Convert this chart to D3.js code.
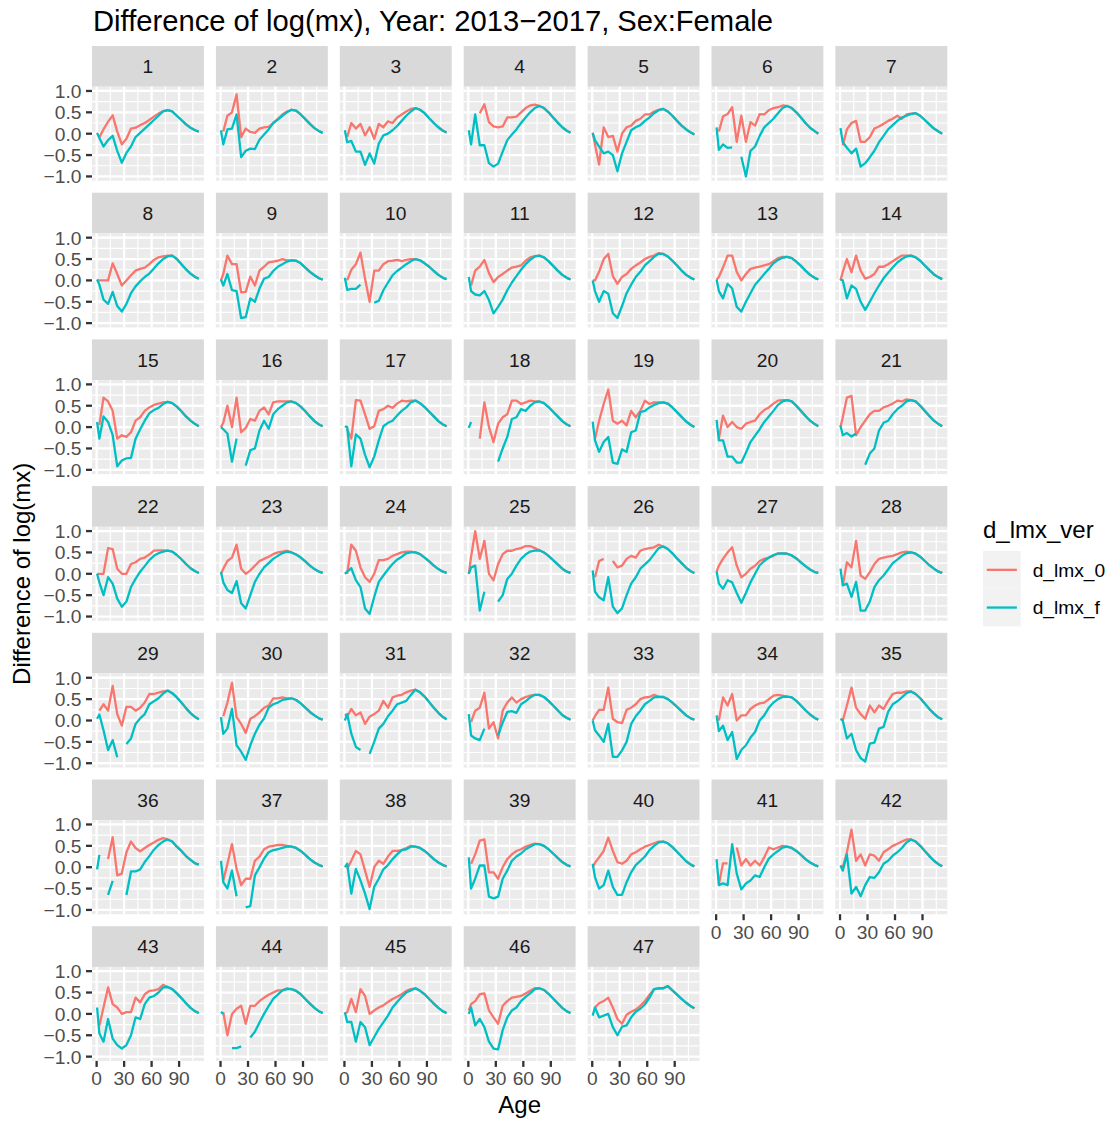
<!DOCTYPE html>
<html>
<head>
<meta charset="utf-8">
<script src="https://cdn.jsdelivr.net/npm/d3@7"></script>
<style>
  body { margin: 0; background: #ffffff; }
  svg text { font-family: "Liberation Sans", Arial, Helvetica, sans-serif; }
</style>
</head>
<body>
<svg id="chart" width="1120" height="1124"></svg>
<script>
// ---- data -------------------------------------------------------------
const NA = null;

// age-group positions (0, 1-4, 5-9, ..., 105-109, 110+)
const ages = [0.5, 3, 7.5, 12.5, 17.5, 22.5, 27.5, 32.5, 37.5, 42.5, 47.5, 52.5,
              57.5, 62.5, 67.5, 72.5, 77.5, 82.5, 87.5, 92.5, 97.5, 102.5, 107.5, 111.5];

const panelLabels = ["1","2","3","4","5","6","7","8","9","10","11","12","13","14","15","16",
  "17","18","19","20","21","22","23","24","25","26","27","28","29","30","31","32","33","34",
  "35","36","37","38","39","40","41","42","43","44","45","46","47"];

const seriesNames = ["d_lmx_0", "d_lmx_f"];
const seriesColors = ["#F8766D", "#00BFC4"];

const xTicks = [0, 30, 60, 90];
const xTickLabels = ["0", "30", "60", "90"];
const yTicks = [-1, -0.5, 0, 0.5, 1];
const yTickLabels = ["\u22121.0", "\u22120.5", "0.0", "0.5", "1.0"];

// difference of log(mx), version 0, one row per panel
const d_lmx_0 = [
  [NA,-0.08,0.1,0.28,0.43,0.05,-0.25,-0.12,0.12,0.14,0.2,0.25,0.32,0.4,0.47,0.53,0.55,0.52,0.42,0.32,0.22,0.14,0.08,0.05],
  [NA,0.05,0.42,0.5,0.92,-0.08,0.12,0.04,0.02,0.12,0.15,0.16,0.25,0.35,0.45,0.52,0.56,0.54,0.45,0.34,0.23,0.13,0.06,0.02],
  [NA,-0.08,0.25,0.12,0.23,-0.04,0.15,-0.12,0.23,0.15,0.29,0.25,0.38,0.45,0.52,0.58,0.6,0.56,0.48,0.36,0.25,0.15,0.07,0.03],
  [NA,NA,NA,0.48,0.69,0.27,0.17,0.15,0.17,0.38,0.38,0.4,0.5,0.6,0.66,0.68,0.65,0.6,0.5,0.38,0.26,0.15,0.07,0.02],
  [0.02,-0.25,-0.72,0.15,-0.08,-0.05,-0.42,0.0,0.15,0.19,0.3,0.35,0.45,0.45,0.52,0.56,0.58,0.52,0.42,0.3,0.19,0.1,0.03,-0.02],
  [NA,0.05,0.4,0.46,0.62,-0.19,0.42,-0.19,0.27,0.19,0.46,0.45,0.55,0.6,0.62,0.66,0.65,0.6,0.5,0.38,0.25,0.14,0.06,0.0],
  [NA,-0.27,0.1,0.25,0.3,-0.19,-0.19,-0.08,0.12,0.17,0.23,0.3,0.35,0.42,0.35,0.45,0.47,0.48,0.42,0.32,0.22,0.12,0.05,0.0],
  [0.0,0.0,0.0,0.0,0.4,0.15,-0.12,0.0,0.12,0.23,0.27,0.3,0.38,0.48,0.54,0.56,0.58,0.58,0.5,0.38,0.26,0.16,0.08,0.04],
  [0.0,0.15,0.58,0.38,0.38,-0.28,-0.27,0.09,-0.12,0.23,0.32,0.42,0.44,0.46,0.5,0.47,0.47,0.46,0.4,0.3,0.2,0.12,0.05,0.02],
  [NA,0.0,0.25,0.38,0.65,0.04,-0.5,0.23,0.23,0.38,0.45,0.46,0.48,0.45,0.48,0.5,0.5,0.47,0.4,0.32,0.22,0.13,0.06,0.03],
  [NA,-0.12,0.23,0.32,0.48,0.17,-0.04,0.08,0.15,0.23,0.3,0.32,0.35,0.46,0.54,0.57,0.58,0.54,0.45,0.34,0.23,0.13,0.06,0.02],
  [0.0,0.0,0.2,0.5,0.62,0.1,-0.08,0.08,0.15,0.27,0.35,0.42,0.5,0.55,0.58,0.64,0.62,0.56,0.46,0.35,0.23,0.13,0.06,0.02],
  [0.02,0.08,0.3,0.58,0.58,0.2,0.0,0.15,0.27,0.3,0.32,0.35,0.38,0.45,0.52,0.55,0.55,0.52,0.44,0.34,0.23,0.13,0.06,0.02],
  [0.0,0.2,0.5,0.19,0.58,0.23,0.04,0.08,0.15,0.32,0.32,0.38,0.45,0.52,0.58,0.58,0.58,0.54,0.46,0.35,0.24,0.14,0.07,0.03],
  [NA,0.05,0.69,0.6,0.38,-0.27,-0.19,-0.23,-0.12,0.15,0.23,0.38,0.46,0.52,0.55,0.58,0.59,0.56,0.48,0.37,0.25,0.15,0.07,0.02],
  [0.0,0.1,0.5,0.0,0.69,-0.12,-0.02,0.19,0.15,0.38,0.46,0.3,0.58,0.6,0.6,0.6,0.6,0.56,0.48,0.37,0.25,0.14,0.06,0.02],
  [NA,-0.05,-0.27,0.63,0.62,0.3,-0.04,0.02,0.38,0.42,0.5,0.45,0.55,0.62,0.6,0.62,0.62,0.56,0.47,0.36,0.25,0.14,0.06,0.02],
  [NA,NA,NA,-0.27,0.58,0.0,-0.35,0.08,0.23,0.3,0.62,0.62,0.54,0.58,0.62,0.6,0.6,0.56,0.47,0.36,0.25,0.14,0.06,0.02],
  [NA,-0.27,0.15,0.54,0.88,0.15,0.08,0.15,0.04,0.38,0.23,0.38,0.62,0.54,0.58,0.58,0.58,0.55,0.46,0.35,0.24,0.13,0.05,0.0],
  [NA,-0.27,0.27,0.0,0.12,0.0,-0.04,0.08,0.12,0.15,0.3,0.4,0.46,0.55,0.62,0.63,0.63,0.6,0.5,0.38,0.26,0.15,0.07,0.02],
  [0.0,0.23,0.69,0.73,-0.19,0.0,0.15,0.3,0.38,0.38,0.46,0.5,0.55,0.62,0.6,0.65,0.63,0.6,0.5,0.38,0.26,0.15,0.07,0.02],
  [0.0,0.0,0.0,0.6,0.58,0.12,0.0,0.0,0.23,0.27,0.35,0.38,0.45,0.54,0.55,0.55,0.54,0.52,0.44,0.34,0.23,0.13,0.06,0.02],
  [0.0,0.12,0.3,0.38,0.68,0.12,0.0,0.08,0.19,0.3,0.35,0.4,0.46,0.5,0.52,0.54,0.5,0.45,0.38,0.29,0.19,0.11,0.05,0.02],
  [NA,0.0,0.68,0.54,0.15,-0.08,-0.19,0.0,0.32,0.32,0.35,0.42,0.46,0.5,0.52,0.52,0.5,0.46,0.38,0.29,0.19,0.11,0.05,0.02],
  [0.0,0.4,1.0,0.35,0.77,0.0,-0.15,0.23,0.46,0.54,0.54,0.58,0.6,0.65,0.65,0.6,0.55,0.5,0.42,0.32,0.22,0.12,0.05,0.02],
  [NA,-0.08,0.3,0.35,NA,0.3,0.15,0.19,0.35,0.42,0.38,0.54,0.58,0.6,0.62,0.68,0.64,0.58,0.48,0.36,0.25,0.14,0.06,0.02],
  [0.05,0.19,0.35,0.5,0.62,0.19,-0.08,0.0,0.12,0.19,0.3,0.35,0.38,0.42,0.48,0.48,0.47,0.43,0.36,0.27,0.18,0.1,0.04,0.02],
  [NA,-0.27,0.27,0.15,0.77,-0.04,-0.12,0.04,0.23,0.35,0.38,0.4,0.42,0.46,0.5,0.52,0.5,0.47,0.4,0.3,0.2,0.12,0.05,0.02],
  [NA,0.23,0.38,0.23,0.81,0.15,-0.12,0.32,0.32,0.23,0.3,0.42,0.62,0.62,0.65,0.68,0.7,0.64,0.54,0.42,0.29,0.17,0.08,0.03],
  [NA,0.1,0.42,0.88,0.08,-0.08,-0.29,0.04,0.1,0.19,0.3,0.35,0.52,0.52,0.54,0.52,0.52,0.48,0.4,0.3,0.2,0.12,0.05,0.02],
  [0.15,0.1,0.27,0.12,0.19,-0.08,0.09,0.15,0.23,0.46,0.3,0.54,0.58,0.6,0.66,0.7,0.72,0.66,0.56,0.43,0.3,0.18,0.08,0.03],
  [NA,-0.04,0.23,0.3,0.65,-0.19,-0.04,-0.42,0.23,0.42,0.54,0.42,0.5,0.55,0.58,0.6,0.6,0.55,0.46,0.35,0.24,0.13,0.06,0.02],
  [0.0,0.1,0.25,0.25,0.77,0.04,-0.04,-0.06,0.25,0.3,0.38,0.5,0.54,0.55,0.6,0.56,0.55,0.5,0.42,0.32,0.22,0.12,0.05,0.02],
  [NA,0.0,0.54,0.35,0.62,0.0,0.12,0.12,0.27,0.35,0.4,0.42,0.5,0.58,0.6,0.58,0.56,0.54,0.46,0.35,0.24,0.14,0.06,0.02],
  [NA,0.0,0.35,0.77,0.3,0.15,0.04,0.35,0.19,0.35,0.27,0.46,0.62,0.65,0.65,0.68,0.68,0.62,0.52,0.4,0.27,0.16,0.07,0.03],
  [NA,NA,NA,0.19,0.7,-0.19,-0.15,0.35,0.6,0.45,0.37,0.45,0.52,0.58,0.64,0.68,0.65,0.6,0.48,0.38,0.26,0.17,0.09,0.06],
  [NA,-0.31,0.08,0.54,-0.04,-0.42,-0.27,-0.27,0.15,0.25,0.42,0.48,0.5,0.52,0.52,0.5,0.48,0.45,0.38,0.29,0.19,0.11,0.05,0.02],
  [NA,-0.04,0.15,0.38,0.3,-0.08,-0.46,0.0,0.15,0.08,0.25,0.38,0.38,0.4,0.45,0.5,0.48,0.45,0.38,0.29,0.19,0.11,0.05,0.02],
  [NA,0.08,0.3,0.62,0.65,-0.12,-0.12,-0.27,0.0,0.19,0.3,0.38,0.42,0.48,0.52,0.55,0.54,0.5,0.42,0.32,0.22,0.12,0.05,0.02],
  [0.0,0.1,0.23,0.38,0.69,0.38,0.12,0.08,0.15,0.3,0.35,0.42,0.48,0.52,0.56,0.6,0.6,0.56,0.47,0.36,0.25,0.14,0.06,0.02],
  [NA,-0.4,0.09,0.09,NA,0.46,0.04,0.19,0.04,0.15,0.04,0.23,0.46,0.42,0.46,0.5,0.48,0.45,0.38,0.29,0.19,0.11,0.05,0.02],
  [0.04,0.0,0.35,0.88,0.15,0.3,0.04,0.3,0.27,0.15,0.35,0.42,0.5,0.55,0.6,0.65,0.65,0.6,0.5,0.38,0.26,0.15,0.07,0.02],
  [NA,-0.27,0.15,0.62,0.23,0.15,0.0,0.04,0.04,0.38,0.27,0.46,0.54,0.55,0.58,0.68,0.63,0.58,0.48,0.37,0.25,0.14,0.06,0.02],
  [NA,0.04,-0.5,0.0,0.12,0.19,-0.23,0.19,0.19,0.3,0.38,0.45,0.5,0.55,0.55,0.6,0.58,0.54,0.46,0.35,0.24,0.14,0.06,0.02],
  [0.0,0.04,0.35,0.04,0.58,0.42,0.0,0.08,0.15,0.2,0.28,0.35,0.4,0.46,0.54,0.58,0.6,0.54,0.46,0.35,0.24,0.14,0.06,0.02],
  [0.08,0.23,0.3,0.46,0.48,0.08,-0.08,-0.23,0.19,0.3,0.38,0.4,0.42,0.48,0.54,0.6,0.6,0.56,0.47,0.36,0.25,0.14,0.06,0.02],
  [NA,0.15,0.25,0.3,0.38,0.15,-0.12,-0.23,-0.02,0.05,0.1,0.19,0.3,0.45,0.58,0.6,0.6,0.65,0.55,0.45,0.35,0.26,0.18,0.13]
];

// difference of log(mx), final version, one row per panel
const d_lmx_f = [
  [0.02,-0.1,-0.3,-0.15,-0.05,-0.4,-0.68,-0.45,-0.3,-0.08,0.02,0.12,0.22,0.32,0.42,0.52,0.55,0.52,0.42,0.32,0.22,0.14,0.08,0.05],
  [0.08,-0.25,0.1,0.12,0.45,-0.55,-0.4,-0.35,-0.36,-0.14,-0.02,0.1,0.25,0.33,0.42,0.5,0.56,0.54,0.45,0.34,0.23,0.13,0.06,0.02],
  [0.08,-0.2,-0.17,-0.42,-0.42,-0.73,-0.46,-0.7,-0.23,-0.04,0.0,0.08,0.18,0.3,0.42,0.52,0.6,0.56,0.48,0.36,0.25,0.15,0.07,0.03],
  [0.08,-0.25,0.45,-0.27,-0.27,-0.69,-0.77,-0.7,-0.42,-0.15,-0.02,0.1,0.25,0.38,0.5,0.6,0.65,0.6,0.5,0.38,0.26,0.15,0.07,0.02],
  [0.02,-0.15,-0.3,-0.46,-0.42,-0.5,-0.88,-0.46,-0.19,0.08,0.15,0.2,0.3,0.38,0.48,0.55,0.58,0.52,0.42,0.3,0.19,0.1,0.03,-0.02],
  [0.15,-0.38,-0.25,-0.33,-0.32,NA,-0.54,-1.0,-0.4,-0.3,-0.05,0.15,0.25,0.35,0.48,0.6,0.65,0.6,0.5,0.38,0.25,0.14,0.06,0.0],
  [0.13,-0.2,-0.33,-0.46,-0.35,-0.77,-0.69,-0.55,-0.4,-0.2,-0.05,0.1,0.2,0.3,0.38,0.42,0.46,0.48,0.42,0.32,0.22,0.12,0.05,0.0],
  [0.02,-0.1,-0.45,-0.55,-0.27,-0.6,-0.73,-0.55,-0.3,-0.14,-0.02,0.08,0.16,0.28,0.4,0.5,0.56,0.58,0.5,0.38,0.26,0.16,0.08,0.04],
  [0.02,-0.12,0.15,-0.23,-0.25,-0.88,-0.86,-0.42,-0.5,-0.19,0.04,0.08,0.22,0.32,0.38,0.44,0.47,0.46,0.4,0.3,0.2,0.12,0.05,0.02],
  [0.06,-0.22,-0.2,-0.2,-0.1,NA,NA,-0.52,-0.48,-0.23,-0.05,0.12,0.22,0.3,0.38,0.45,0.5,0.47,0.4,0.32,0.22,0.13,0.06,0.03],
  [0.08,-0.25,-0.33,-0.35,-0.25,-0.46,-0.77,-0.62,-0.45,-0.23,-0.05,0.1,0.25,0.38,0.48,0.56,0.58,0.54,0.45,0.34,0.23,0.13,0.06,0.02],
  [0.0,-0.25,-0.5,-0.25,-0.31,-0.77,-0.88,-0.6,-0.3,-0.1,0.08,0.2,0.35,0.45,0.55,0.62,0.62,0.56,0.46,0.35,0.23,0.13,0.06,0.02],
  [0.02,-0.25,-0.42,-0.08,-0.19,-0.62,-0.73,-0.5,-0.3,-0.1,0.02,0.15,0.27,0.4,0.48,0.53,0.55,0.52,0.44,0.34,0.23,0.13,0.06,0.02],
  [0.02,0.0,-0.42,-0.12,-0.2,-0.5,-0.69,-0.5,-0.3,-0.12,0.05,0.18,0.3,0.42,0.5,0.56,0.58,0.54,0.46,0.35,0.24,0.14,0.07,0.03],
  [0.12,-0.27,0.25,0.12,-0.19,-0.92,-0.78,-0.73,-0.72,-0.27,-0.05,0.15,0.32,0.4,0.45,0.54,0.59,0.56,0.48,0.37,0.25,0.15,0.07,0.02],
  [0.0,-0.05,-0.15,-0.81,-0.27,NA,-0.9,-0.54,-0.5,-0.08,0.15,-0.04,0.3,0.42,0.5,0.58,0.6,0.56,0.48,0.37,0.25,0.14,0.06,0.02],
  [0.02,0.0,-0.92,-0.17,-0.27,-0.65,-0.94,-0.69,-0.31,0.02,0.1,0.15,0.27,0.38,0.46,0.58,0.62,0.56,0.47,0.36,0.25,0.14,0.06,0.02],
  [-0.02,0.12,NA,NA,NA,NA,NA,-0.81,-0.5,-0.23,0.19,0.23,0.42,0.38,0.5,0.58,0.6,0.56,0.47,0.36,0.25,0.14,0.06,0.02],
  [0.13,-0.31,-0.58,-0.35,-0.23,-0.83,-0.86,-0.52,-0.58,-0.12,-0.08,0.35,0.38,0.46,0.52,0.56,0.58,0.55,0.46,0.35,0.24,0.13,0.05,0.0],
  [0.17,-0.31,-0.31,-0.69,-0.69,-0.83,-0.83,-0.6,-0.35,-0.2,-0.05,0.12,0.25,0.38,0.52,0.6,0.63,0.6,0.5,0.38,0.26,0.15,0.07,0.02],
  [0.04,-0.19,-0.14,-0.22,-0.15,NA,-0.88,-0.62,-0.5,-0.08,0.1,0.15,0.3,0.42,0.5,0.6,0.63,0.6,0.5,0.38,0.26,0.15,0.07,0.02],
  [0.0,-0.2,-0.5,-0.08,-0.23,-0.58,-0.77,-0.65,-0.31,-0.12,0.05,0.18,0.32,0.42,0.48,0.52,0.54,0.52,0.44,0.34,0.23,0.13,0.06,0.02],
  [0.04,-0.2,-0.38,-0.45,-0.17,-0.69,-0.81,-0.5,-0.19,0.0,0.15,0.25,0.35,0.42,0.48,0.52,0.5,0.45,0.38,0.29,0.19,0.11,0.05,0.02],
  [0.0,0.05,0.13,-0.15,-0.31,-0.81,-0.94,-0.54,-0.19,-0.04,0.1,0.23,0.33,0.4,0.48,0.5,0.5,0.46,0.38,0.29,0.19,0.11,0.05,0.02],
  [0.0,0.15,0.19,-0.86,-0.42,NA,NA,-0.65,-0.5,-0.12,0.0,0.19,0.35,0.45,0.52,0.54,0.55,0.5,0.42,0.32,0.22,0.12,0.05,0.02],
  [0.08,-0.42,-0.55,-0.62,-0.08,-0.77,-0.92,-0.81,-0.5,-0.23,-0.08,0.12,0.22,0.32,0.46,0.6,0.64,0.58,0.48,0.36,0.25,0.14,0.06,0.02],
  [0.06,-0.23,-0.35,-0.15,-0.2,-0.45,-0.68,-0.45,-0.2,0.0,0.2,0.3,0.38,0.44,0.47,0.48,0.47,0.43,0.36,0.27,0.18,0.1,0.04,0.02],
  [0.12,-0.27,-0.23,-0.54,-0.19,-0.86,-0.86,-0.65,-0.31,-0.15,-0.04,0.1,0.25,0.33,0.42,0.48,0.5,0.47,0.4,0.3,0.2,0.12,0.05,0.02],
  [0.04,0.14,-0.23,-0.69,-0.46,-0.86,NA,-0.55,-0.42,-0.08,0.05,0.15,0.38,0.45,0.52,0.63,0.7,0.64,0.54,0.42,0.29,0.17,0.08,0.03],
  [0.08,-0.31,-0.19,0.27,-0.58,-0.73,-0.92,-0.58,-0.31,-0.1,0.05,0.3,0.38,0.42,0.48,0.5,0.52,0.48,0.4,0.3,0.2,0.12,0.05,0.02],
  [0.0,0.15,-0.31,-0.62,-0.69,NA,-0.78,-0.5,-0.19,-0.08,0.1,0.23,0.38,0.42,0.46,0.6,0.72,0.66,0.56,0.43,0.3,0.18,0.08,0.03],
  [0.15,-0.35,-0.42,-0.46,-0.19,NA,NA,-0.35,-0.05,0.2,0.22,0.18,0.38,0.45,0.54,0.6,0.6,0.55,0.46,0.35,0.24,0.13,0.06,0.02],
  [0.0,-0.23,-0.35,-0.5,-0.08,-0.85,-0.85,-0.7,-0.5,-0.08,0.1,0.23,0.38,0.46,0.54,0.55,0.55,0.5,0.42,0.32,0.22,0.12,0.05,0.02],
  [0.12,-0.25,-0.12,-0.46,-0.27,-0.9,-0.69,-0.58,-0.4,-0.27,0.0,0.12,0.3,0.42,0.5,0.55,0.56,0.54,0.46,0.35,0.24,0.14,0.06,0.02],
  [0.04,0.0,-0.42,-0.31,-0.69,-0.88,-0.96,-0.54,-0.52,-0.19,-0.15,0.2,0.38,0.45,0.54,0.64,0.68,0.62,0.52,0.4,0.27,0.16,0.07,0.03],
  [-0.05,0.29,NA,-0.65,-0.32,NA,NA,-0.65,-0.1,-0.1,-0.05,0.12,0.26,0.41,0.52,0.6,0.65,0.6,0.48,0.38,0.26,0.17,0.09,0.06],
  [0.15,-0.35,-0.5,-0.08,-0.68,NA,-0.94,-0.91,-0.19,0.0,0.2,0.35,0.4,0.42,0.45,0.48,0.48,0.45,0.38,0.29,0.19,0.11,0.05,0.02],
  [0.0,0.08,-0.62,-0.04,-0.31,-0.62,-0.98,-0.46,-0.27,-0.05,0.05,0.19,0.3,0.4,0.42,0.48,0.48,0.45,0.38,0.29,0.19,0.11,0.05,0.02],
  [0.23,-0.5,-0.27,0.04,0.04,-0.69,-0.73,-0.69,-0.27,-0.08,0.15,0.25,0.32,0.42,0.48,0.54,0.54,0.5,0.42,0.32,0.22,0.12,0.05,0.02],
  [0.08,-0.23,-0.5,-0.42,-0.08,-0.46,-0.65,-0.65,-0.35,-0.12,0.05,0.15,0.25,0.4,0.5,0.58,0.6,0.56,0.47,0.36,0.25,0.14,0.06,0.02],
  [0.19,-0.42,-0.38,-0.42,0.54,-0.15,-0.52,-0.38,-0.31,-0.19,-0.23,0.0,0.2,0.3,0.38,0.46,0.48,0.45,0.38,0.29,0.19,0.11,0.05,0.02],
  [0.04,-0.08,0.3,-0.62,-0.46,-0.68,-0.42,-0.23,-0.25,-0.12,0.08,0.15,0.27,0.35,0.45,0.58,0.65,0.6,0.5,0.38,0.26,0.15,0.07,0.02],
  [0.15,-0.46,-0.65,-0.12,-0.58,-0.73,-0.81,-0.73,-0.5,-0.08,-0.12,0.23,0.38,0.42,0.5,0.62,0.63,0.58,0.48,0.37,0.25,0.14,0.06,0.02],
  [0.05,0.0,NA,-0.8,-0.8,-0.76,NA,-0.55,-0.42,-0.2,0.0,0.18,0.35,0.45,0.55,0.58,0.58,0.54,0.46,0.35,0.24,0.14,0.06,0.02],
  [0.04,-0.19,-0.19,-0.65,-0.19,-0.31,-0.73,-0.54,-0.35,-0.2,-0.04,0.15,0.28,0.4,0.5,0.55,0.6,0.54,0.46,0.35,0.24,0.14,0.06,0.02],
  [0.0,0.15,-0.27,-0.12,-0.31,-0.65,-0.81,-0.83,-0.38,-0.08,0.08,0.15,0.3,0.4,0.48,0.58,0.6,0.56,0.47,0.36,0.25,0.14,0.06,0.02],
  [-0.04,0.15,-0.08,-0.04,0.0,-0.31,-0.5,-0.3,-0.27,-0.08,0.05,0.12,0.22,0.38,0.58,0.6,0.6,0.65,0.55,0.45,0.35,0.26,0.18,0.13]
];

// ---- layout -------------------------------------------------------------
const NCOL = 7;
const panelLeft0 = 92, panelW = 111.9, colStep = 123.9;
const stripTop0 = 46, stripH = 40.7, panelH = 94, rowStep = 146.7;
const tickLen = 6, tickGap = 4.6;
const lineW = 2.3;

const svg = d3.select("#chart");
svg.append("rect").attr("width", 1120).attr("height", 1124).attr("fill", "#ffffff");

// shared scales (ggplot-style 5% expansion of the data range)
const xExt = d3.extent(ages);
const xPad = (xExt[1] - xExt[0]) * 0.05;
const x = d3.scaleLinear().domain([xExt[0] - xPad, xExt[1] + xPad]).range([0, panelW]);

const allVals = d_lmx_0.flat().concat(d_lmx_f.flat()).filter(v => v !== null);
const yExt = d3.extent(allVals);
const yPad = (yExt[1] - yExt[0]) * 0.05;
const y = d3.scaleLinear().domain([yExt[0] - yPad, yExt[1] + yPad]).range([panelH, 0]);

const xMinor = [15, 45, 75, 105];
const yMinor = [-0.75, -0.25, 0.25, 0.75];

const line = d3.line()
  .defined(d => d.v !== null)
  .x(d => x(d.age))
  .y(d => y(d.v));

const series = [d_lmx_0, d_lmx_f];
const nPanels = panelLabels.length;

panelLabels.forEach((label, i) => {
  const row = Math.floor(i / NCOL), col = i % NCOL;
  const px = panelLeft0 + col * colStep;
  const sTop = stripTop0 + row * rowStep;
  const pTop = sTop + stripH;

  // strip
  svg.append("rect")
    .attr("x", px).attr("y", sTop).attr("width", panelW).attr("height", stripH)
    .attr("fill", "#D9D9D9");
  svg.append("text")
    .attr("x", px + panelW / 2).attr("y", sTop + stripH / 2 + 6.9)
    .attr("text-anchor", "middle").attr("font-size", 19.2).attr("fill", "#1A1A1A")
    .text(label);

  const g = svg.append("g").attr("transform", `translate(${px},${pTop})`);
  g.append("rect").attr("width", panelW).attr("height", panelH).attr("fill", "#EBEBEB");

  // minor grid
  g.selectAll(null).data(yMinor).join("line")
    .attr("x1", 0).attr("x2", panelW).attr("y1", d => y(d)).attr("y2", d => y(d))
    .attr("stroke", "#ffffff").attr("stroke-width", 1.15);
  g.selectAll(null).data(xMinor.filter(v => x(v) < panelW)).join("line")
    .attr("y1", 0).attr("y2", panelH).attr("x1", d => x(d)).attr("x2", d => x(d))
    .attr("stroke", "#ffffff").attr("stroke-width", 1.15);
  // major grid
  g.selectAll(null).data(yTicks).join("line")
    .attr("x1", 0).attr("x2", panelW).attr("y1", d => y(d)).attr("y2", d => y(d))
    .attr("stroke", "#ffffff").attr("stroke-width", 2.3);
  g.selectAll(null).data(xTicks).join("line")
    .attr("y1", 0).attr("y2", panelH).attr("x1", d => x(d)).attr("x2", d => x(d))
    .attr("stroke", "#ffffff").attr("stroke-width", 2.3);

  // series lines: d_lmx_0 first, d_lmx_f on top
  const lines = g.append("g");
  series.forEach((s, k) => {
    const pts = ages.map((a, j) => ({ age: a, v: s[i][j] }));
    lines.append("path")
      .attr("d", line(pts))
      .attr("fill", "none")
      .attr("stroke", seriesColors[k])
      .attr("stroke-width", lineW)
      .attr("stroke-linejoin", "round")
      .attr("stroke-linecap", "butt");
  });

  // left axis on the first column
  if (col === 0) {
    yTicks.forEach((t, j) => {
      g.append("line")
        .attr("x1", -tickLen).attr("x2", 0).attr("y1", y(t)).attr("y2", y(t))
        .attr("stroke", "#333333").attr("stroke-width", 2.3);
      g.append("text")
        .attr("x", -tickLen - tickGap).attr("y", y(t) + 6.9)
        .attr("text-anchor", "end").attr("font-size", 19.2).attr("fill", "#4D4D4D")
        .text(yTickLabels[j]);
    });
  }
  // bottom axis where no panel sits below
  if (i + NCOL >= nPanels) {
    xTicks.forEach((t, j) => {
      g.append("line")
        .attr("x1", x(t)).attr("x2", x(t)).attr("y1", panelH).attr("y2", panelH + tickLen)
        .attr("stroke", "#333333").attr("stroke-width", 2.3);
      g.append("text")
        .attr("x", x(t)).attr("y", panelH + tickLen + tickGap + 13.8)
        .attr("text-anchor", "middle").attr("font-size", 19.2).attr("fill", "#4D4D4D")
        .text(xTickLabels[j]);
    });
  }
});

// ---- titles -------------------------------------------------------------
svg.append("text")
  .attr("x", 93).attr("y", 31)
  .attr("font-size", 29.2).attr("fill", "#000000")
  .text("Difference of log(mx), Year: 2013\u22122017, Sex:Female");

const plotRight = panelLeft0 + 6 * colStep + panelW;
svg.append("text")
  .attr("x", (panelLeft0 + plotRight) / 2).attr("y", 1113)
  .attr("text-anchor", "middle").attr("font-size", 24).attr("fill", "#000000")
  .text("Age");

const panelsTop = stripTop0 + stripH;
const panelsBottom = stripTop0 + 6 * rowStep + stripH + panelH;
svg.append("text")
  .attr("transform", `translate(30,${(panelsTop + panelsBottom) / 2}) rotate(-90)`)
  .attr("text-anchor", "middle").attr("font-size", 24).attr("fill", "#000000")
  .text("Difference of log(mx)");

// ---- legend ---------------------------------------------------------------
const legX = 983, legTitleY = 538, keyTop = 551, keySize = 37.7;
svg.append("text")
  .attr("x", legX).attr("y", legTitleY)
  .attr("font-size", 24).attr("fill", "#000000")
  .text("d_lmx_ver");
seriesNames.forEach((name, k) => {
  const ky = keyTop + k * keySize;
  svg.append("rect")
    .attr("x", legX).attr("y", ky).attr("width", keySize).attr("height", keySize)
    .attr("fill", "#F2F2F2");
  svg.append("line")
    .attr("x1", legX + 3.8).attr("x2", legX + keySize - 3.8)
    .attr("y1", ky + keySize / 2).attr("y2", ky + keySize / 2)
    .attr("stroke", seriesColors[k]).attr("stroke-width", lineW);
  svg.append("text")
    .attr("x", legX + keySize + 12).attr("y", ky + keySize / 2 + 6.9)
    .attr("font-size", 19.2).attr("fill", "#000000")
    .text(name);
});
</script>
</body>
</html>
